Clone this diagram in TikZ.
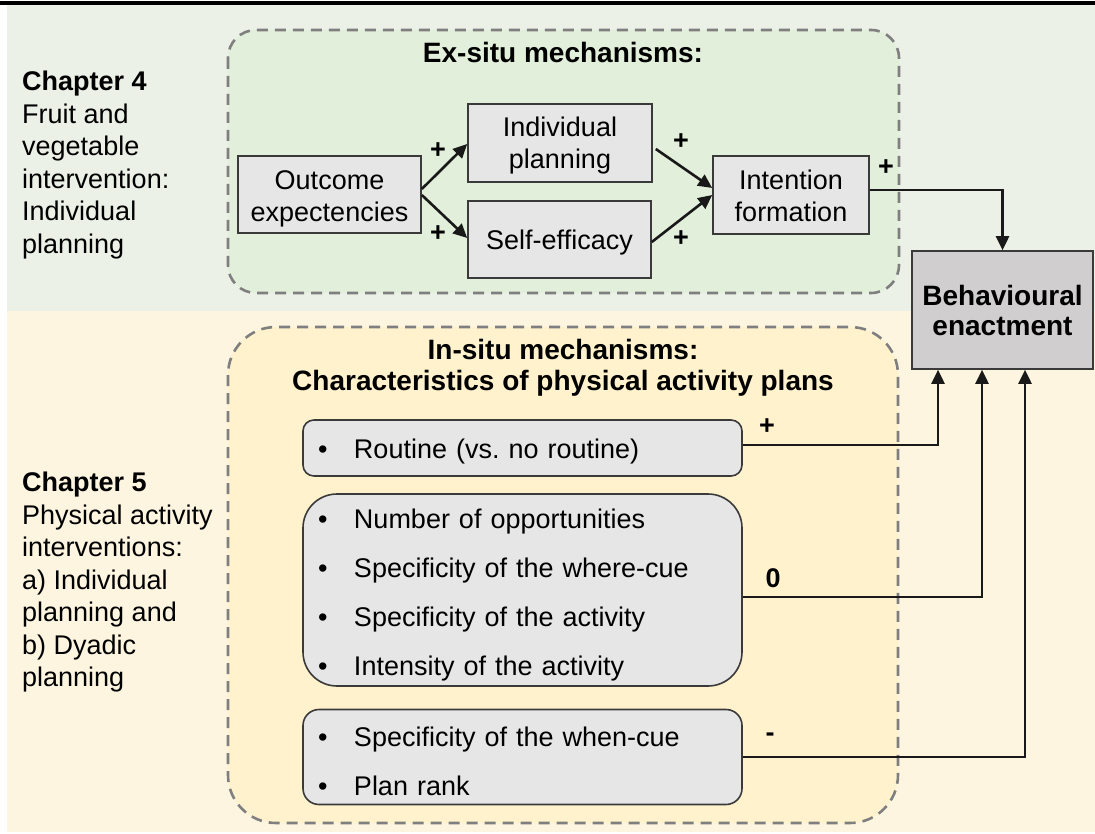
\documentclass[tikz,border=0pt]{standalone}
\usepackage{fontspec}
\setmainfont{Liberation Sans}
\usetikzlibrary{arrows.meta,calc}
\frenchspacing

\definecolor{bandgreen}{HTML}{EBF1E6}
\definecolor{boxgreen}{HTML}{E2EFDA}
\definecolor{bandyellow}{HTML}{FDF5E0}
\definecolor{boxyellow}{HTML}{FFF2CC}
\definecolor{framegray}{HTML}{7F7F7F}
\definecolor{cellgray}{HTML}{E7E6E6}
\definecolor{goalgray}{HTML}{D0CECE}
\definecolor{edgegray}{HTML}{3A3A3A}

% bullet with a fixed hanging gap
\newcommand\bulletitem{\makebox[36pt][l]{\textbullet}}
% invisible strut that lowers a text block inside its box
\newcommand\lowerby[1]{\rule{0pt}{#1}}

\tikzset{
  txt/.style={font=\fontsize{27}{32}\selectfont},
  cell/.style={draw=edgegray, line width=1.6pt, fill=cellgray, align=center, inner sep=0pt, txt},
  frame/.style={draw=framegray, line width=2.6pt, dash pattern=on 11pt off 7pt},
  link/.style={line width=2.6pt, draw=black!90, -{Triangle[length=14pt,width=13pt]}},
  sign/.style={font=\bfseries\fontsize{27}{32}\selectfont, inner sep=0pt},
  listbox/.style={draw=edgegray, line width=1.6pt, fill=cellgray, align=left,
    text width=409pt, inner xsep=15pt, inner ysep=0pt, font=\fontsize{27}{49}\selectfont},
  side/.style={align=left, anchor=north west, inner sep=0pt, font=\fontsize{27}{32.5}\selectfont},
  heading/.style={align=center, inner sep=0pt, font=\bfseries\fontsize{28}{31}\selectfont},
}

\begin{document}
\begin{tikzpicture}[x=1pt, y=-1pt]
  \useasboundingbox (0,0) rectangle (1095,834);

  % background bands and top rule
  \fill[bandgreen] (7,5) rectangle (1095,311);
  \fill[bandyellow] (7,311) rectangle (1095,832);
  \draw[line width=4pt] (0,3) -- (1095,3);

  % dashed mechanism frames
  \draw[frame, fill=boxgreen, rounded corners=28pt] (228,30) rectangle (899,293);
  \draw[frame, fill=boxyellow, rounded corners=48pt] (228,327) rectangle (898,823);

  % chapter descriptions
  \node[side] (ch4) at (22,71) {\textbf{Chapter 4}\\Fruit and\\vegetable\\intervention:\\Individual\\planning};
  \node[side] (ch5) at (22,472) {\textbf{Chapter 5}\\Physical activity\\interventions:\\a) Individual\\planning and\\b) Dyadic\\planning};

  % frame headings
  \node[heading] (exsitu) at (563,52) {Ex-situ mechanisms:};
  \node[heading] (insitu) at (563,368) {In-situ mechanisms:\\Characteristics of physical activity plans};

  % ex-situ chain
  \node[cell, minimum width=183pt, minimum height=77pt] (oe) at (329.5,194.5) {\lowerby{27pt}Outcome\\expectencies};
  \node[cell, minimum width=184pt, minimum height=78pt] (ip) at (560,143) {\lowerby{25pt}Individual\\planning};
  \node[cell, minimum width=183pt, minimum height=77pt] (se) at (559.5,239.5) {\lowerby{26pt}Self-efficacy};
  \node[cell, minimum width=156pt, minimum height=78pt] (if) at (791,195) {\lowerby{22pt}Intention\\formation};
  \node[cell, fill=goalgray, font=\bfseries\fontsize{28}{30}\selectfont,
        minimum width=181pt, minimum height=118pt] (be) at (1002.5,310) {Behavioural\\enactment};

  % plan characteristics
  \node[listbox, rounded corners=11pt, minimum height=56pt] (rt) at (522.5,448)
    {\lowerby{26pt}\bulletitem Routine (vs. no routine)};
  \node[listbox, rounded corners=34pt, minimum height=192pt] (mo) at (522.5,590)
    {\lowerby{30pt}\bulletitem Number of opportunities\\
     \bulletitem Specificity of the where-cue\\
     \bulletitem Specificity of the activity\\
     \bulletitem Intensity of the activity};
  \node[listbox, rounded corners=16pt, minimum height=95pt] (wc) at (522.5,757)
    {\lowerby{28pt}\bulletitem Specificity of the when-cue\\
     \bulletitem Plan rank};

  % connectors
  \draw[link] ([yshift=5.5pt]oe.east) -- ([yshift=-1pt]ip.west);
  \draw[link] ([yshift=-0.5pt]oe.east) -- ([yshift=1.5pt]se.west);
  \draw[link] ([xshift=3pt,yshift=-6pt]ip.east) -- ([yshift=7pt]if.west);
  \draw[link] ([yshift=-2.5pt]se.east) -- (if.west);
  \draw[link] ([yshift=5pt]if.east) -| (be.north);
  \draw[link] ([yshift=3pt]rt.east) -| ([xshift=-64.5pt]be.south);
  \draw[link] ([yshift=-7pt]mo.east) -| ([xshift=-20.5pt]be.south);
  \draw[link] (wc.east) -| ([xshift=22.5pt]be.south);

  % effect signs
  \node[sign] (s1) at (438,151) {+};
  \node[sign] (s2) at (438,234) {+};
  \node[sign] (s3) at (681,142) {+};
  \node[sign] (s4) at (681,239) {+};
  \node[sign] (s5) at (886,168) {+};
  \node[sign] (s6) at (767,427) {+};
  \node[sign] (s7) at (773,578) {0};
  \node[sign] (s8) at (770,737) {-};
\end{tikzpicture}
\end{document}
